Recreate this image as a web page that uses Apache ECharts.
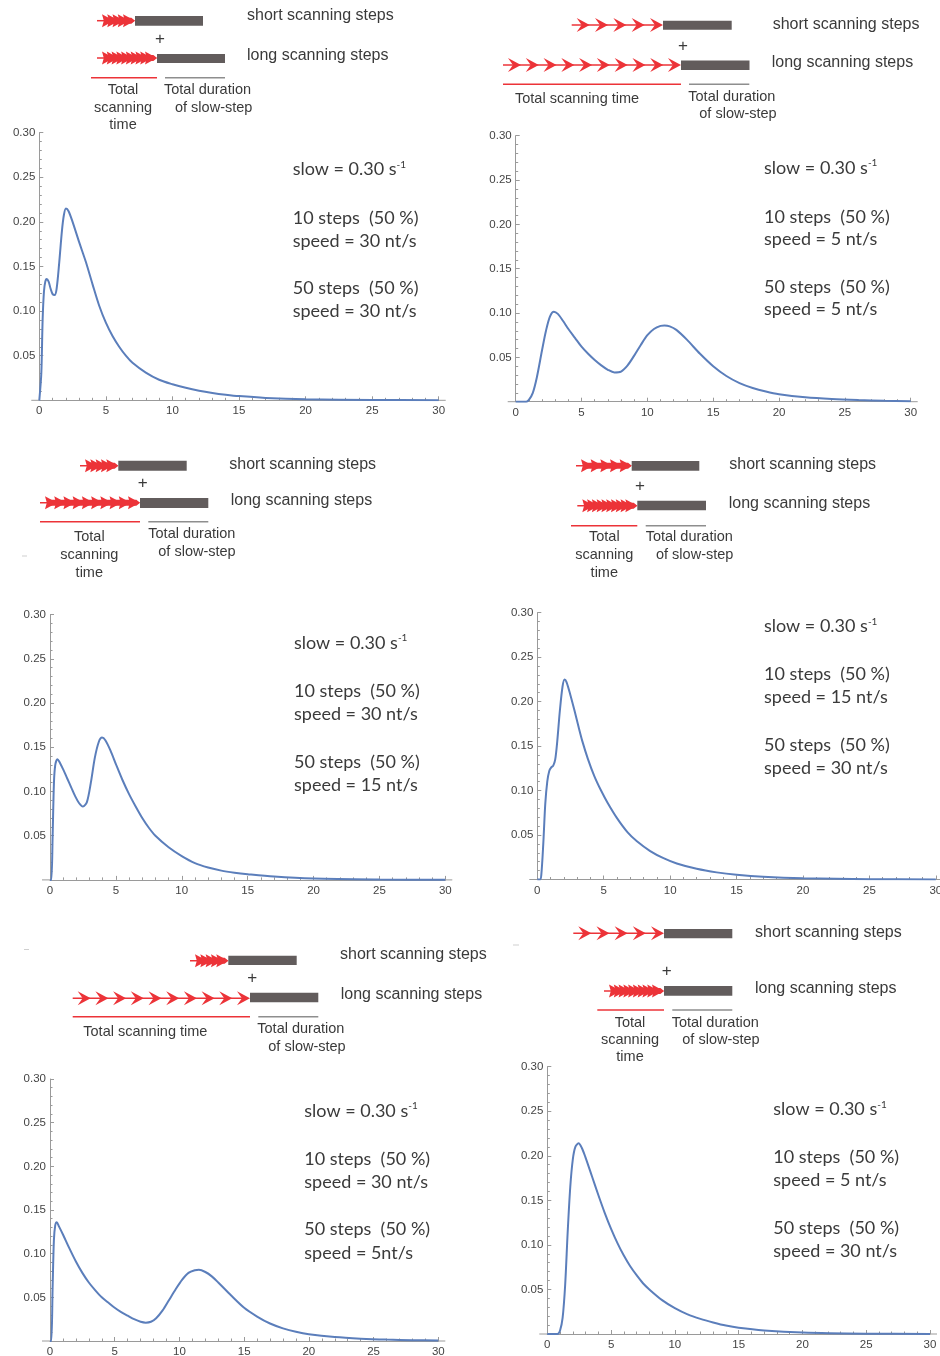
<!DOCTYPE html>
<html><head><meta charset="utf-8">
<script src="https://cdn.jsdelivr.net/npm/echarts@6/dist/echarts.min.js"></script>
<style>html,body{margin:0;padding:0;background:#fff}#c{width:940px;height:1356px}</style>
</head><body><div id="c"></div>
<script>
// ---------------- DATA ----------------
const xTickLabels = ['0', '5', '10', '15', '20', '25', '30'];
const yTickLabels = ['0.05', '0.10', '0.15', '0.20', '0.25', '0.30'];

const p1_t = [0,0.05,0.15,0.25,0.35,0.45,0.55,0.7,0.85,1.0,1.15,1.3,1.5,1.7,1.85,2.0,2.2,2.5,3.0,3.5,4.0,4.5,5.0,5.5,6.0,6.5,7,8,9,10,11,12,13,14,15,17,20,25,30];
const p1_v = [0,0,0.03,0.09,0.122,0.133,0.136,0.133,0.125,0.119,0.118,0.125,0.155,0.19,0.208,0.215,0.212,0.2,0.177,0.155,0.13,0.106,0.087,0.072,0.06,0.05,0.042,0.031,0.023,0.018,0.014,0.0108,0.0083,0.0063,0.0047,0.0027,0.0012,0.0004,0.0001];

const p2_t = [0,0.8,1.0,1.3,1.6,2.0,2.3,2.6,2.9,3.2,3.6,4.0,4.5,5.0,5.5,6.0,6.5,7.0,7.5,8.0,8.5,9.0,9.5,10.0,10.5,11.0,11.3,11.7,12.2,13,14,15,16,17,18,19,20,22,24,26,28,30];
const p2_v = [0,0,0.002,0.01,0.027,0.058,0.08,0.096,0.1015,0.099,0.091,0.082,0.072,0.062,0.054,0.047,0.041,0.036,0.033,0.034,0.041,0.052,0.064,0.075,0.082,0.0855,0.086,0.085,0.081,0.07,0.054,0.04,0.029,0.021,0.0155,0.0115,0.0085,0.005,0.003,0.0018,0.001,0.0006];

const p3_t = [0,0.1,0.2,0.3,0.4,0.56,0.7,1.0,1.3,1.6,1.9,2.2,2.5,2.8,3.1,3.4,3.7,3.95,4.2,4.6,5.0,5.5,6.0,6.5,7.0,7.5,8.0,9.0,10,11,12,13,14,15,17,20,25,30];
const p3_v = [0,0,0.05,0.11,0.13,0.1365,0.134,0.125,0.115,0.105,0.095,0.087,0.083,0.088,0.11,0.138,0.156,0.161,0.158,0.146,0.131,0.113,0.097,0.083,0.07,0.059,0.05,0.037,0.027,0.019,0.014,0.0105,0.0082,0.0065,0.0038,0.0016,0.0005,0.0001];

const p4_t = [0,0.2,0.3,0.45,0.6,0.75,0.9,1.05,1.2,1.35,1.5,1.7,1.9,2.05,2.2,2.5,2.8,3.1,3.4,3.8,4.3,4.8,5.3,6.0,6.8,7.5,8.5,9.5,10.5,12,13.5,15,17,20,25,30];
const p4_v = [0,0,0.005,0.04,0.085,0.11,0.122,0.126,0.128,0.135,0.155,0.19,0.217,0.225,0.222,0.207,0.19,0.172,0.155,0.136,0.116,0.1,0.086,0.069,0.053,0.043,0.032,0.024,0.018,0.012,0.008,0.0053,0.003,0.0013,0.0004,0.0001];

const p5_t = [0,0.1,0.2,0.3,0.4,0.52,0.7,1.0,1.5,2.0,2.5,3.0,3.5,4.0,4.5,5.0,5.5,6.0,6.5,7.0,7.4,7.8,8.2,8.7,9.2,9.7,10.2,10.7,11.2,11.5,12,12.5,13,14,15,16,17,18,19,20,22,24,26,28,30];
const p5_v = [0,0,0.06,0.115,0.132,0.136,0.131,0.122,0.106,0.091,0.078,0.067,0.058,0.05,0.044,0.038,0.033,0.029,0.025,0.022,0.021,0.022,0.026,0.035,0.047,0.059,0.07,0.078,0.081,0.0815,0.079,0.074,0.067,0.052,0.038,0.028,0.02,0.0145,0.0105,0.0077,0.0045,0.0027,0.0016,0.001,0.0006];

const p6_t = [0,0.8,1.0,1.2,1.4,1.6,1.8,2.0,2.2,2.45,2.7,3.0,3.5,4.0,4.5,5.0,5.5,6.0,6.5,7.0,7.5,8.0,9.0,10,11,12,13,14,15,17,20,25,30];
const p6_v = [0,0,0.004,0.018,0.055,0.115,0.165,0.196,0.21,0.214,0.209,0.198,0.177,0.156,0.136,0.118,0.102,0.088,0.076,0.066,0.057,0.05,0.038,0.029,0.022,0.017,0.013,0.0095,0.007,0.004,0.0017,0.0004,0.0001];

const slowText = 'slow = 0.30 s';
const slowSup = '-1';
const shortStepsText = '10 steps  (50 %)';
const longStepsText = '50 steps  (50 %)';
const shortSpeedText = ['speed = 30 nt/s','speed = 5 nt/s','speed = 30 nt/s','speed = 15 nt/s','speed = 30 nt/s','speed = 5 nt/s'];
const longSpeedText  = ['speed = 30 nt/s','speed = 5 nt/s','speed = 15 nt/s','speed = 30 nt/s','speed = 5nt/s','speed = 30 nt/s'];

const seriesT = [p1_t, p2_t, p3_t, p4_t, p5_t, p6_t];
const seriesV = [p1_v, p2_v, p3_v, p4_v, p5_v, p6_v];

// ---------------- LAYOUT ----------------
const grids = [
  {left: 39.3, top: 132.7, width: 399.4, height: 267.6},
  {left: 515.7, top: 135.7, width: 395, height: 266},
  {left: 50, top: 614.7, width: 395.3, height: 265.2},
  {left: 537.3, top: 612.7, width: 398.5, height: 266.8},
  {left: 50, top: 1079, width: 388.3, height: 262},
  {left: 547.3, top: 1066.7, width: 382.7, height: 267.3}
];
const annot = [
  {x: 292.7, ys: [169.3, 218.3, 240.7, 288.3, 310.7]},
  {x: 764, ys: [167.7, 216.7, 239.3, 286.7, 309.3]},
  {x: 294, ys: [642.7, 691, 714.3, 762.3, 785]},
  {x: 764, ys: [626, 674, 697.3, 745, 768.3]},
  {x: 304.3, ys: [1110.7, 1159, 1182.3, 1229.3, 1252.7]},
  {x: 773.3, ys: [1109, 1157.3, 1180, 1227.7, 1250.7]}
];
const diagrams = [
  {short: {x0: 97, x1: 135, y: 20.7, n: 5, L: 12, h: 6.5}, sbar: {x: 135, y: 16, w: 68, h: 9.7}, st: [247, 16],
   plus: [160, 39],
   long: {x0: 97, x1: 157, y: 58, n: 10, L: 12, h: 6.5}, lbar: {x: 157, y: 54, w: 68, h: 9}, lt: [247, 56],
   red: [91, 157, 77.7], gray: [165, 225, 77.7],
   scanLabel: {mode: 'stack', cx: 123, ys: [90, 108, 125]},
   dur: [[164, 90], [175, 108]]},
  {short: {x0: 571.7, x1: 663, y: 25, n: 5, L: 13, h: 7}, sbar: {x: 663, y: 20.7, w: 68.7, h: 9}, st: [772.7, 25],
   plus: [683, 46.7],
   long: {x0: 503, x1: 681, y: 65, n: 10, L: 13, h: 7}, lbar: {x: 681, y: 60.5, w: 68.5, h: 9.5}, lt: [771.7, 62.7],
   red: [503, 681, 84.3], gray: [689, 749.3, 84.3],
   scanLabel: {mode: 'line', x: 515, y: 99.3},
   dur: [[688.3, 96.7], [699.3, 114.3]]},
  {short: {x0: 80, x1: 118.3, y: 465.7, n: 5, L: 12, h: 6.5}, sbar: {x: 118.3, y: 460.7, w: 68.4, h: 10}, st: [229.3, 464.3],
   plus: [142.7, 483.3],
   long: {x0: 40, x1: 140, y: 502.7, n: 10, L: 12, h: 6.5}, lbar: {x: 140, y: 498, w: 68.3, h: 10}, lt: [230.7, 501],
   red: [40, 140, 521.7], gray: [148.3, 208.3, 521.7],
   scanLabel: {mode: 'stack', cx: 89.3, ys: [536.7, 555, 572.7]},
   dur: [[148.3, 534.3], [158.3, 551.7]]},
  {short: {x0: 576, x1: 631.7, y: 465.7, n: 5, L: 12, h: 6.5}, sbar: {x: 631.7, y: 461, w: 67.6, h: 9.7}, st: [729.3, 465],
   plus: [640, 486.7],
   long: {x0: 577.3, x1: 637.3, y: 505.7, n: 10, L: 12, h: 6.5}, lbar: {x: 637.3, y: 500.7, w: 68.7, h: 9.6}, lt: [728.7, 503.3],
   red: [571, 637.3, 525.7], gray: [645.7, 706, 525.7],
   scanLabel: {mode: 'stack', cx: 604.3, ys: [537.3, 555, 572.7]},
   dur: [[645.7, 536.7], [656, 555]]},
  {short: {x0: 190, x1: 228.3, y: 960.7, n: 5, L: 12, h: 6.5}, sbar: {x: 228.3, y: 955.7, w: 68.4, h: 9.3}, st: [340, 955],
   plus: [252.3, 978.3],
   long: {x0: 72.7, x1: 250, y: 998.3, n: 10, L: 13, h: 7}, lbar: {x: 250, y: 992.7, w: 68.3, h: 9.6}, lt: [340.7, 995],
   red: [72.7, 250, 1016.7], gray: [258.3, 318.3, 1016.7],
   scanLabel: {mode: 'line', x: 83.3, y: 1031.7},
   dur: [[257.3, 1029], [268.3, 1046.7]]},
  {short: {x0: 573.3, x1: 664, y: 933.3, n: 5, L: 13, h: 7}, sbar: {x: 664, y: 929, w: 68.3, h: 9.3}, st: [755, 932.3],
   plus: [666.7, 971.7],
   long: {x0: 604, x1: 664, y: 991, n: 10, L: 12, h: 6.5}, lbar: {x: 664, y: 986, w: 68.3, h: 9.7}, lt: [755, 989],
   red: [597.3, 664, 1010], gray: [672.3, 732.3, 1010],
   scanLabel: {mode: 'stack', cx: 630, ys: [1023.3, 1040, 1056.7]},
   dur: [[671.7, 1022.7], [682.3, 1040]]}
];

const RED = '#ec3338', BAR = '#625c5c', GLINE = '#8e8e8e', TXT = '#3a3a3a', AX = '#9a9a9a';
const LINEC = '#5b7ebb';
const FONT_D = '16px "Liberation Sans", Arial, sans-serif';
const FONT_S = '14.5px "Liberation Sans", Arial, sans-serif';
const FONT_A = '18px Lato, "Noto Sans", sans-serif';

// ---------------- GRAPHICS ----------------
const G = [];
function txt(x, y, text, font, align) {
  G.push({type: 'text', x: x, y: y, silent: true,
    style: {text: text, font: font, fill: TXT, align: align || 'left', verticalAlign: 'middle'}});
}
function hline(x1, x2, y, color, w) {
  G.push({type: 'line', silent: true, shape: {x1: x1, y1: y, x2: x2, y2: y}, style: {stroke: color, lineWidth: w}});
}
function arrows(a) {
  const tail = 5;
  const firstTip = a.x0 + tail + a.L;
  const sp = a.n > 1 ? (a.x1 - firstTip) / (a.n - 1) : 0;
  const dense = sp < a.L;
  const notch = dense ? 0.85 : 0.62;
  hline(a.x0, a.x1 - a.L * 0.5, a.y, RED, 1.5);
  for (let k = 0; k < a.n; k++) {
    const t = firstTip + k * sp;
    G.push({type: 'polygon', silent: true,
      shape: {points: [[t, a.y], [t - a.L, a.y - a.h], [t - a.L * notch, a.y], [t - a.L, a.y + a.h]]},
      style: {fill: RED}});
  }
  if (dense) {
    G.push({type: 'polygon', silent: true,
      shape: {points: [[firstTip - a.L * 0.6, a.y - a.h * 0.45], [a.x1 - a.L * 0.3, a.y - a.h * 0.45], [a.x1, a.y],
                       [a.x1 - a.L * 0.3, a.y + a.h * 0.45], [firstTip - a.L * 0.6, a.y + a.h * 0.45]]},
      style: {fill: RED}});
  }
}
diagrams.forEach(function (d) {
  arrows(d.short); arrows(d.long);
  G.push({type: 'rect', silent: true, shape: {x: d.sbar.x, y: d.sbar.y, width: d.sbar.w, height: d.sbar.h}, style: {fill: BAR}});
  G.push({type: 'rect', silent: true, shape: {x: d.lbar.x, y: d.lbar.y, width: d.lbar.w, height: d.lbar.h}, style: {fill: BAR}});
  txt(d.st[0], d.st[1], 'short scanning steps', FONT_D);
  txt(d.lt[0], d.lt[1], 'long scanning steps', FONT_D);
  txt(d.plus[0], d.plus[1], '+', '17px "Liberation Sans", Arial, sans-serif', 'center');
  hline(d.red[0], d.red[1], d.red[2], RED, 1.5);
  hline(d.gray[0], d.gray[1], d.gray[2], GLINE, 1.5);
  if (d.scanLabel.mode === 'stack') {
    ['Total', 'scanning', 'time'].forEach(function (s, i) { txt(d.scanLabel.cx, d.scanLabel.ys[i], s, FONT_S, 'center'); });
  } else {
    txt(d.scanLabel.x, d.scanLabel.y, 'Total scanning time', FONT_S);
  }
  txt(d.dur[0][0], d.dur[0][1], 'Total duration', FONT_S);
  txt(d.dur[1][0], d.dur[1][1], 'of slow-step', FONT_S);
});
annot.forEach(function (a, i) {
  G.push({type: 'text', x: a.x, y: a.ys[0], silent: true,
    style: {text: '{m|' + slowText + '}{s|' + slowSup + '}', fill: TXT, verticalAlign: 'middle',
      rich: {m: {font: FONT_A, fill: TXT}, s: {font: '10px Lato, "Noto Sans", sans-serif', fill: TXT, verticalAlign: 'top', padding: [0, 0, 9, 0]}}}});
  txt(a.x, a.ys[1], shortStepsText, FONT_A);
  txt(a.x, a.ys[2], shortSpeedText[i], FONT_A);
  txt(a.x, a.ys[3], longStepsText, FONT_A);
  txt(a.x, a.ys[4], longSpeedText[i], FONT_A);
});
grids.forEach(function (g) {
  hline(g.left - 8, g.left, g.top + g.height, AX, 1);
  hline(g.left + g.width, g.left + g.width + 7, g.top + g.height, AX, 1);
});
hline(22, 27, 556, '#cfcfcf', 1);
hline(24, 29, 949.5, '#cfcfcf', 1);
hline(513, 519, 945, '#cfcfcf', 1);

// ---------------- CHART ----------------
const axisCommon = {
  axisLine: {show: true, onZero: false, lineStyle: {color: AX, width: 1}},
  axisTick: {show: true, inside: true, length: 4, lineStyle: {color: AX}},
  minorTick: {show: true, splitNumber: 5, length: 2.5, lineStyle: {color: AX}},
  splitLine: {show: false}
};
const option = {
  backgroundColor: '#fff',
  animation: false,
  grid: grids.map(function (g) { return Object.assign({containLabel: false, outerBoundsMode: 'none'}, g); }),
  xAxis: grids.map(function (g, i) {
    return Object.assign({type: 'value', gridIndex: i, min: 0, max: 30, interval: 5,
      axisLabel: {color: '#444', fontSize: 11.5, fontFamily: '"Liberation Sans", Arial, sans-serif', margin: 5,
        formatter: function (v) { return xTickLabels[Math.round(v / 5)]; }}}, axisCommon);
  }),
  yAxis: grids.map(function (g, i) {
    return Object.assign({type: 'value', gridIndex: i, min: 0, max: 0.30, interval: 0.05,
      axisLabel: {color: '#444', fontSize: 11.5, fontFamily: '"Liberation Sans", Arial, sans-serif', margin: 4,
        formatter: function (v) { const k = Math.round(v / 0.05); return k === 0 ? '' : yTickLabels[k - 1]; }}}, axisCommon);
  }),
  series: seriesT.map(function (ts, i) {
    return {type: 'line', xAxisIndex: i, yAxisIndex: i, showSymbol: false, smooth: 0.3,
      lineStyle: {color: LINEC, width: 2}, silent: true,
      data: ts.map(function (t, k) { return [t, seriesV[i][k]]; })};
  }),
  graphic: {elements: G}
};
const chart = echarts.init(document.getElementById('c'), null, {renderer: 'canvas'});
chart.setOption(option);
</script></body></html>
